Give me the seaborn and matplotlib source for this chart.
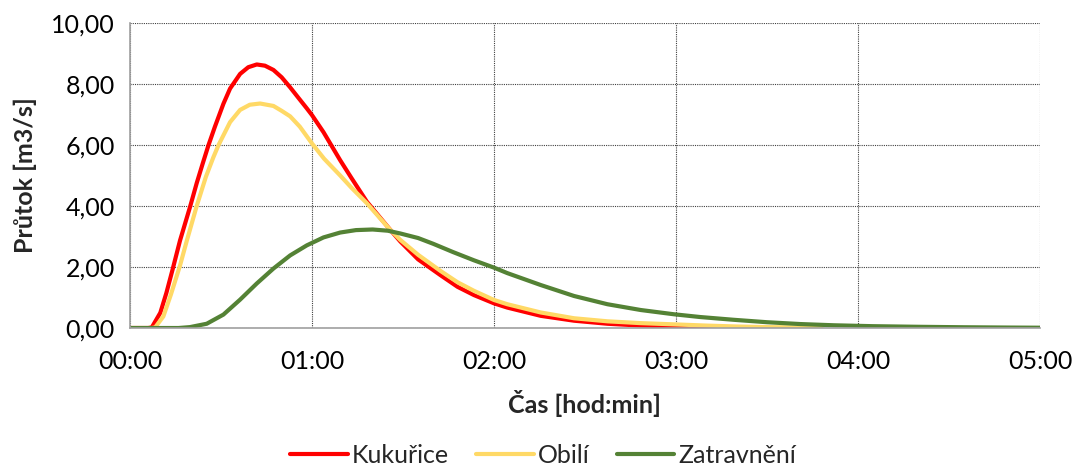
import pandas as pd
import matplotlib
matplotlib.use("Agg")
import matplotlib.pyplot as plt
from matplotlib.ticker import FuncFormatter, MultipleLocator
import seaborn as sns

# time in minutes, discharge in m3/s
cas_kukurice = [0, 6, 7.2, 10, 12, 14, 16.5, 19.8, 22, 24, 25.9, 28, 30.8, 33, 36.3, 39, 41.8,
                44.5, 47.3, 50, 52.8, 55.5, 58.3, 60, 63.8, 69.3, 73, 78.1, 85.8, 89.1, 95,
                102.4, 108, 113.4, 120, 124.4, 135.4, 146.4, 157.4, 168.4, 179.4, 190, 203]
kukurice = [0, 0, 0.02, 0.5, 1.15, 1.9, 2.87, 3.97, 4.75, 5.4, 6.0, 6.6, 7.35, 7.85, 8.33,
            8.55, 8.64, 8.6, 8.46, 8.22, 7.89, 7.55, 7.2, 6.98, 6.42, 5.5, 4.92, 4.14, 3.22,
            2.84, 2.25, 1.73, 1.35, 1.08, 0.81, 0.67, 0.4, 0.24, 0.14, 0.08, 0.05, 0.025,
            0.005]

cas_obili = [0, 7, 8.3, 11, 13.5, 16.5, 18.7, 22, 25, 27.5, 29.2, 33, 36.3, 39.5, 42.9, 47.3,
             50, 52.8, 56, 60, 64, 69.3, 73, 78.1, 85.8, 89.1, 95, 102.4, 108, 113.4, 120,
             124.4, 135.4, 146.4, 157.4, 168.4, 179.4, 190, 200, 210, 220, 228]
obili = [0, 0, 0.02, 0.38, 1.1, 2.05, 2.85, 4.0, 4.95, 5.6, 6.0, 6.75, 7.15, 7.32, 7.36, 7.28,
         7.12, 6.94, 6.6, 6.05, 5.55, 5.0, 4.6, 4.09, 3.22, 2.89, 2.4, 1.87, 1.5, 1.22, 0.92,
         0.78, 0.51, 0.32, 0.22, 0.16, 0.12, 0.08, 0.05, 0.03, 0.02, 0.01]

cas_zatravneni = [0, 16, 19.8, 25.3, 30.8, 36.3, 41.8, 47.3, 52.8, 58.3, 63.8, 69.3, 74.5,
                  80, 85, 89.1, 95, 100, 106.5, 113.4, 120, 124.4, 135.4, 146.4, 157.4, 168.4,
                  179.4, 188, 199, 210, 221, 232, 245, 260, 275, 290, 300]
zatravneni = [0, 0, 0.03, 0.14, 0.44, 0.93, 1.46, 1.95, 2.38, 2.71, 2.97, 3.13, 3.21, 3.23,
              3.19, 3.1, 2.95, 2.76, 2.49, 2.22, 1.98, 1.8, 1.41, 1.05, 0.78, 0.59, 0.45, 0.36,
              0.27, 0.19, 0.13, 0.09, 0.06, 0.04, 0.025, 0.015, 0.01]

df = pd.concat([
    pd.DataFrame({"cas": cas_kukurice, "prutok": kukurice, "plodina": "Kukuřice"}),
    pd.DataFrame({"cas": cas_obili, "prutok": obili, "plodina": "Obilí"}),
    pd.DataFrame({"cas": cas_zatravneni, "prutok": zatravneni, "plodina": "Zatravnění"}),
])

sns.set_style("white")
plt.rcParams["font.family"] = ["Lato", "DejaVu Sans"]

fig = plt.figure(figsize=(10.76, 4.69), dpi=100)
ax = fig.add_axes([0.1208, 0.3006, 0.8457, 0.6504])

barvy = {"Kukuřice": "#FF0000", "Obilí": "#FFD966", "Zatravnění": "#548235"}
sns.lineplot(data=df, x="cas", y="prutok", hue="plodina", palette=barvy,
             linewidth=3, ax=ax, sort=False, legend=True)
for ln in ax.get_lines():
    ln.set_solid_joinstyle("round")
    ln.set_solid_capstyle("round")

ax.set_xlim(0, 300)
ax.set_ylim(0, 10)
ax.xaxis.set_major_locator(MultipleLocator(60))
ax.yaxis.set_major_locator(MultipleLocator(2))
ax.xaxis.set_major_formatter(FuncFormatter(lambda v, p: "%02d:%02d" % (int(v) // 60, int(v) % 60)))
ax.yaxis.set_major_formatter(FuncFormatter(lambda v, p: ("%.2f" % v).replace(".", ",")))

ax.grid(True, color="#404040", linestyle=(0, (1, 1)), linewidth=0.8)
for s in ["top", "right"]:
    ax.spines[s].set_visible(False)
for s in ["left", "bottom"]:
    ax.spines[s].set_color("#A0A0A0")
    ax.spines[s].set_linewidth(1.2)
ax.tick_params(axis="both", direction="out", length=6, color="#A0A0A0", labelsize=18,
               labelcolor="#000000", pad=5)
ax.tick_params(axis="x", pad=10)

ax.set_xlabel("Čas [hod:min]", fontsize=18, fontweight="bold", labelpad=12)
ax.set_ylabel("Průtok [m3/s]", fontsize=18, fontweight="bold", labelpad=10)

handles, labels = ax.get_legend_handles_labels()
ax.get_legend().remove()
fig.legend(handles, labels, loc="center", bbox_to_anchor=(543 / 1076, 1 - 455 / 469), ncol=3,
           frameon=False, fontsize=18, handlelength=2.3, handletextpad=0.15,
           columnspacing=1.1)

fig.savefig("out.png", dpi=100)
